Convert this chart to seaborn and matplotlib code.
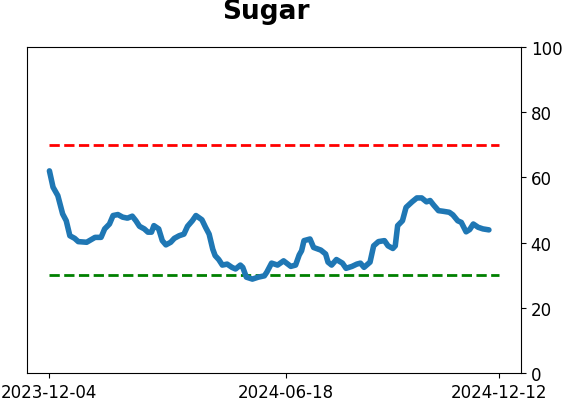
import pandas as pd
import numpy as np
import matplotlib
matplotlib.use("Agg")
import matplotlib.pyplot as plt
import matplotlib.dates as mdates
import seaborn as sns

title = "Sugar"
start_date = "2023-12-04"
end_date = "2024-12-12"
tick_dates = ["2023-12-04", "2024-06-18", "2024-12-12"]
upper_level = 70
lower_level = 30

# days after start_date
day_offsets = [0, 3, 7, 11, 14, 17, 21, 24, 31, 38, 43, 46, 50, 53, 57, 61, 65, 69, 72, 75,
               79, 82, 85, 87, 91, 94, 97, 101, 104, 108, 112, 115, 119, 122, 127, 130, 133, 136,
               138, 141, 144, 148, 152, 155, 159, 161, 164, 169, 174, 179, 181, 185, 190, 195,
               201, 205, 208, 210, 212, 217, 220, 226, 230, 232, 235, 239, 244, 247, 252, 256,
               259, 262, 267, 270, 274, 279, 282, 286, 288, 290, 294, 297, 302, 306, 310, 314,
               317, 320, 324, 328, 333, 336, 340, 343, 347, 350, 353, 357, 361, 366]
values = [62.0, 57.0, 54.4, 48.8, 46.7, 42.1, 41.3, 40.3, 40.1, 41.6, 41.6, 44.2, 45.7, 48.3,
          48.6, 47.8, 47.5, 48.1, 46.7, 45.0, 44.2, 43.2, 43.2, 45.2, 44.2, 40.6, 39.3, 40.1,
          41.3, 42.1, 42.6, 45.0, 46.7, 48.3, 47.0, 44.7, 42.6, 38.0, 36.0, 34.8, 33.1, 33.4,
          32.4, 31.9, 33.1, 32.4, 29.4, 28.8, 29.4, 29.8, 30.9, 33.7, 33.1, 34.4, 32.7, 33.1,
          36.2, 37.5, 40.6, 41.1, 38.5, 37.7, 36.5, 34.0, 33.1, 34.8, 33.7, 32.1, 32.7, 33.4,
          33.7, 32.4, 34.0, 39.0, 40.3, 40.6, 39.0, 38.2, 39.0, 45.2, 46.7, 50.8, 52.5, 53.7,
          53.7, 52.5, 52.9, 51.5, 49.8, 49.6, 49.3, 48.5, 46.7, 46.2, 43.3, 44.0, 45.7, 44.7,
          44.2, 43.9]

sns.set_style("ticks", {"axes.edgecolor": "black", "xtick.color": "black",
                        "ytick.color": "black", "text.color": "black"})
plt.rcParams["font.family"] = ["DejaVu Sans"]

df = pd.DataFrame({
    "date": pd.Timestamp(start_date) + pd.to_timedelta(day_offsets, unit="D"),
    "value": values,
})
levels = pd.DataFrame({"date": pd.to_datetime([start_date, end_date])})

fig = plt.figure(figsize=(5.62, 4.02), dpi=100)
ax = fig.add_axes([0.048, 0.0697, 0.879, 0.8109])

sns.lineplot(x=levels["date"], y=[upper_level] * 2, ax=ax, color="red", lw=2, linestyle="--")
sns.lineplot(x=levels["date"], y=[lower_level] * 2, ax=ax, color="green", lw=2, linestyle="--")
sns.lineplot(data=df, x="date", y="value", ax=ax, color="#1f77b4", lw=4)

ax.set_ylim(0, 100)
ax.set_yticks([0, 20, 40, 60, 80, 100])
ax.yaxis.tick_right()
ax.set_xticks(pd.to_datetime(tick_dates))
ax.xaxis.set_major_formatter(mdates.DateFormatter("%Y-%m-%d"))
ax.tick_params(labelsize=12, colors="black")
ax.set_xlabel("")
ax.set_ylabel("")

fig.text(0.4725, 0.953, title, ha="center", va="baseline", fontsize=19,
         fontweight="bold", color="black")

fig.savefig("out.png", dpi=100)
